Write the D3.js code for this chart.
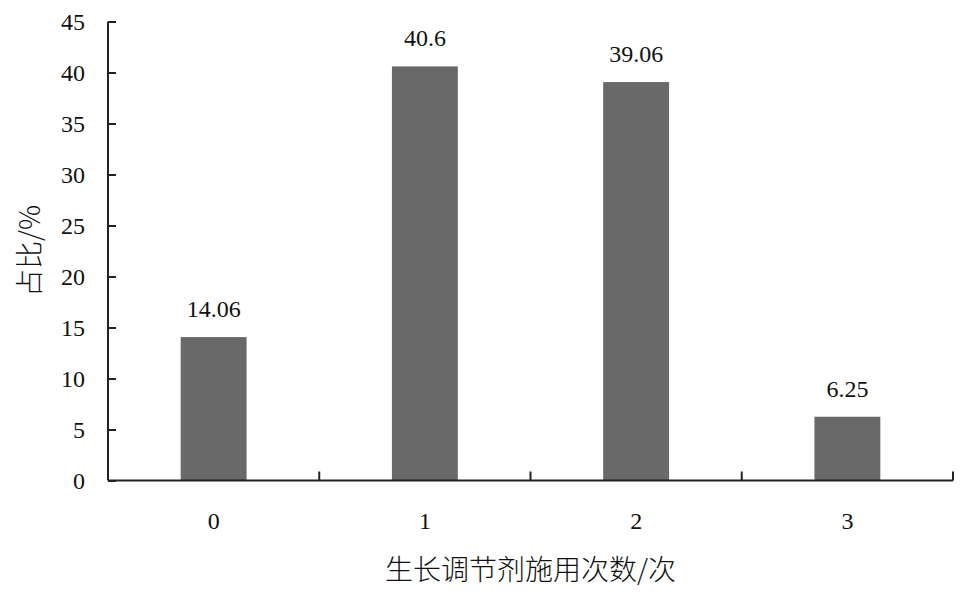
<!DOCTYPE html>
<html><head><meta charset="utf-8">
<script src="https://cdn.jsdelivr.net/npm/d3@7"></script>
<style>body{margin:0;background:#fff}svg{display:block}
.serif{font-family:"Liberation Serif","Times New Roman","DejaVu Serif",serif}
.cjk{font-family:"Noto Sans CJK SC",sans-serif}
</style>
</head><body>
<svg id="c" width="969" height="600"></svg>
<script>
const categories = ["0","1","2","3"];
const values = [14.06, 40.6, 39.06, 6.25];
const valueLabels = ["14.06","40.6","39.06","6.25"];
const yTicks = [0,5,10,15,20,25,30,35,40,45];
const xTitle = "生长调节剂施用次数/次";
const yTitle = "占比/%";

(function(){
const svg = d3.select("#c");
const mL = 108, mR = 953, mT = 21.5, mB = 480.5;
const x = d3.scaleBand().domain(categories).range([mL, mR]).padding(0);
const y = d3.scaleLinear().domain([0,45]).range([mB, mT]);
const barW = x.bandwidth()*0.312;

svg.selectAll("rect.bar").data(values).join("rect")
  .attr("x",(d,i)=>x(categories[i])+x.bandwidth()/2-barW/2)
  .attr("y",d=>y(d)).attr("width",barW).attr("height",d=>y(0)-y(d))
  .attr("fill","#696969");

svg.selectAll("text.vl").data(values).join("text").attr("class","vl serif")
  .attr("x",(d,i)=>x(categories[i])+x.bandwidth()/2)
  .attr("y",d=>y(d)-20).attr("text-anchor","middle")
  .style("font-size","24px").attr("fill","#111")
  .text((d,i)=>valueLabels[i]);

const ya = svg.append("g").attr("transform",`translate(${mL},0)`)
  .call(d3.axisRight(y).tickValues(yTicks).tickSize(8).tickFormat(d3.format("d")));
ya.attr("font-family",null).attr("font-size",null);
ya.select(".domain").attr("stroke","#222").attr("stroke-width",2).attr("d",`M0,${mT}V${mB}`);
ya.selectAll(".tick line").attr("stroke","#222").attr("stroke-width",2);
ya.selectAll(".tick text").attr("class","serif").attr("x",-23).attr("text-anchor","end")
  .style("font-size","24px").attr("fill","#111");

const xa = svg.append("g").attr("transform",`translate(0,${mB})`)
  .call(d3.axisBottom(x).tickSize(0).tickPadding(0));
xa.attr("font-family",null).attr("font-size",null);
xa.select(".domain").attr("stroke","#222").attr("stroke-width",2).attr("d",`M${mL},0H${mR}`);
xa.selectAll(".tick text").attr("class","serif").attr("y",48).attr("dy",0)
  .style("font-size","24px").attr("fill","#111");
const bounds = categories.map(c=>x(c)+x.bandwidth());
xa.selectAll("line.bt").data(bounds).join("line").attr("class","bt")
  .attr("x1",d=>d).attr("x2",d=>d).attr("y1",0).attr("y2",-9)
  .attr("stroke","#222").attr("stroke-width",2);

svg.append("text").attr("class","cjk").attr("x",(mL+mR)/2).attr("y",580)
  .attr("text-anchor","middle").style("font-size","28px").style("font-weight","300").attr("fill","#111").text(xTitle);
svg.append("text").attr("class","cjk").attr("transform",`translate(40,${(mT+mB)/2})rotate(-90)`)
  .attr("text-anchor","middle").style("font-size","28px").style("font-weight","300").attr("fill","#111").text(yTitle);
})();
</script>
</body></html>
